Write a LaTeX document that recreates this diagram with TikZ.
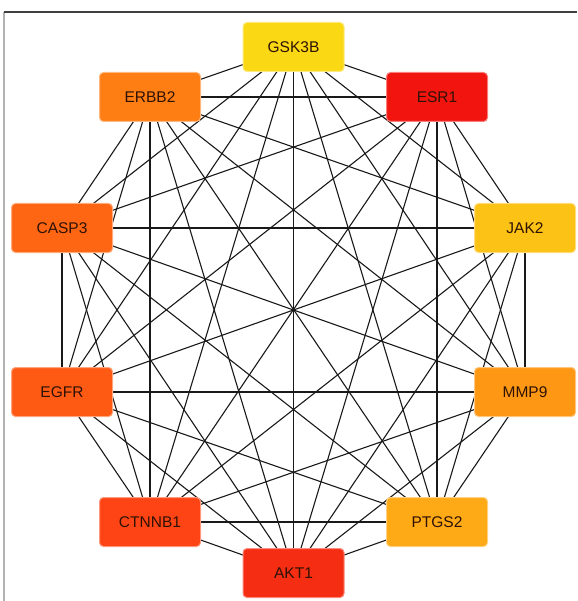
\documentclass[tikz,border=0pt]{standalone}
\usepackage{fontspec}
\setmainfont{Liberation Sans}
\usetikzlibrary{backgrounds}
\definecolor{cGSK}{HTML}{FAD814}
\definecolor{cESR}{HTML}{F2140F}
\definecolor{cJAK}{HTML}{FDC216}
\definecolor{cMMP}{HTML}{FE9814}
\definecolor{cPTGS}{HTML}{FEAA16}
\definecolor{cAKT}{HTML}{F52D12}
\definecolor{cCTNNB}{HTML}{FE4414}
\definecolor{cEGFR}{HTML}{FE5A14}
\definecolor{cCASP}{HTML}{FE6614}
\definecolor{cERBB}{HTML}{FE7E14}
\definecolor{genetext}{HTML}{2E1206}

\begin{document}
\begin{tikzpicture}[x=1pt,y=-1pt,
  gene/.style={rectangle, rounded corners=4pt, minimum width=101pt, minimum height=49pt,
    fill=#1, draw=#1!55!white, line width=1pt, text=genetext,
    font=\fontsize{15.5}{18}\selectfont},
  link/.style={black!90, line width=1.1pt}]
\useasboundingbox (0,0) rectangle (577,601);
% frame
\draw[gray!60, line width=1.3pt] (4,601) -- (4,12);
\draw[black!75, line width=1.3pt] (4,12) -- (577,12);
% genes
\node[gene=cGSK] (gsk) at (293.5,47) {GSK3B};
\node[gene=cESR] (esr) at (437,97) {ESR1};
\node[gene=cJAK] (jak) at (525,228) {JAK2};
\node[gene=cMMP] (mmp) at (525,392) {MMP9};
\node[gene=cPTGS] (ptgs) at (437,522) {PTGS2};
\node[gene=cAKT] (akt) at (293.5,573) {AKT1};
\node[gene=cCTNNB] (ctnnb) at (150,522) {CTNNB1};
\node[gene=cEGFR] (egfr) at (62,392) {EGFR};
\node[gene=cCASP] (casp) at (62,228) {CASP3};
\node[gene=cERBB] (erbb) at (150,97) {ERBB2};
% every pair is linked
\begin{scope}[on background layer]
\foreach \a [count=\i] in {gsk,esr,jak,mmp,ptgs,akt,ctnnb,egfr,casp,erbb}
  \foreach \b [count=\j] in {gsk,esr,jak,mmp,ptgs,akt,ctnnb,egfr,casp,erbb}
    {\ifnum\j>\i \draw[link] (\a.center) -- (\b.center); \fi}
\end{scope}
\end{tikzpicture}
\end{document}
